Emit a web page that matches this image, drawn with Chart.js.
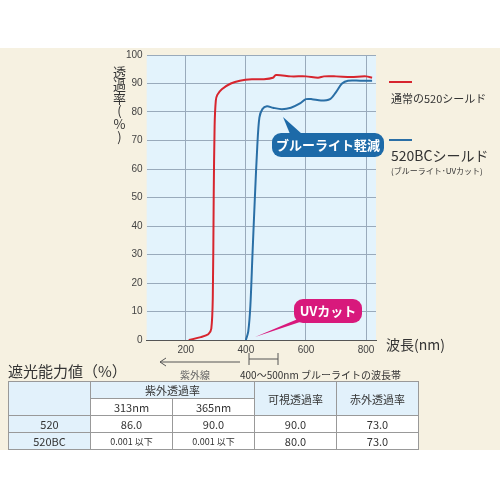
<!DOCTYPE html>
<html>
<head>
<meta charset="utf-8" />
<script src="https://cdn.jsdelivr.net/npm/chart.js"></script>
<style>
body{margin:0;width:500px;height:500px;background:#fff;font-family:"Noto Sans CJK JP","Noto Sans",sans-serif;color:#333;position:relative;overflow:hidden}
#bg{position:absolute;left:0;top:48px;width:500px;height:402px;background:#f6f1e1}
#wrap{position:absolute;left:0;top:0;width:500px;height:360px}
.a{position:absolute;white-space:nowrap}
.bub{position:absolute;color:#fff;font-weight:bold;font-size:13px;border-radius:9px;text-align:center;line-height:24px}
table{position:absolute;left:8px;top:381px;border-collapse:collapse;font-size:11px}
td{border:1px solid #999;text-align:center;padding:0;height:15px;background:#fff}
td.h{background:#e2f1fb}
</style>
</head>
<body>
<div id="bg"></div>
<div id="wrap"><canvas id="myChart" width="500" height="360"></canvas></div>
<svg class="a" style="left:0;top:0" width="500" height="500">
  <polygon points="283,117 290,134 302,134" fill="#1d6aa8"/>
  <polygon points="255,337 305,316 318,316" fill="#d8197c"/>
  <line x1="389" y1="82" x2="412" y2="82" stroke="#d7252e" stroke-width="2"/>
  <line x1="389" y1="140" x2="412" y2="140" stroke="#2a6fa6" stroke-width="2"/>
  <line x1="160" y1="362" x2="240" y2="362" stroke="#555"/>
  <polyline points="166,358 160,362 166,366" fill="none" stroke="#555"/>
  <line x1="249" y1="353" x2="249" y2="365" stroke="#555"/>
  <line x1="278" y1="353" x2="278" y2="365" stroke="#555"/>
  <line x1="249" y1="359" x2="278" y2="359" stroke="#555"/>
</svg>
<div class="a" style="left:112px;top:66px;writing-mode:vertical-rl;text-orientation:upright;font-size:13px;line-height:14px">透過率(%)</div>
<div class="bub" style="left:272px;top:133px;width:112px;background:#1d6aa8">ブルーライト軽減</div>
<div class="bub" style="left:294px;top:299px;width:68px;background:#d8197c">UVカット</div>
<div class="a" style="left:391px;top:90px;font-size:11px">通常の520シールド</div>
<div class="a" style="left:391px;top:146px;font-size:14px;line-height:18px">520BCシールド</div>
<div class="a" style="left:391px;top:166px;font-size:8px;line-height:10px">(ブルーライト･UVカット)</div>
<div class="a" style="left:386px;top:334px;font-size:14px">波長(nm)</div>
<div class="a" style="left:8px;top:360px;font-size:15px">遮光能力値（%）</div>
<div class="a" style="left:180px;top:367px;font-size:10px;color:#666">紫外線</div>
<div class="a" style="left:240px;top:367px;font-size:10px">400〜500nm ブルーライトの波長帯</div>
<table>
<tr><td class="h" rowspan="2" style="width:81px"></td><td class="h" colspan="2">紫外透過率</td><td class="h" rowspan="2" style="width:81px">可視透過率</td><td class="h" rowspan="2" style="width:81px">赤外透過率</td></tr>
<tr><td style="width:81px">313nm</td><td style="width:81px">365nm</td></tr>
<tr><td class="h">520</td><td>86.0</td><td>90.0</td><td>90.0</td><td>73.0</td></tr>
<tr><td class="h">520BC</td><td style="font-size:9px">0.001 以下</td><td style="font-size:9px">0.001 以下</td><td>80.0</td><td>73.0</td></tr>
</table>
<script>
// wavelength (nm) and transmittance (%)
const redX = [210,250,275,285,290,293,296,300,305,320,350,380,420,460,490,500,550,600,640,660,700,750,800,820];
const redY = [0,1,2,4,15,50,75,84,86,88,90,91,91.5,91.5,92,93,92.5,92.5,92,92.5,92.5,92.3,92.5,92];
const blueX = [400,408,415,422,430,438,445,455,470,490,520,550,580,600,620,650,680,700,720,740,780,820];
const blueY = [0,3,12,30,50,68,78,81,82,81.5,81,81.5,83,84.5,84.5,84,84.5,87,90,91,91,91];
const yTicks = [0,10,20,30,40,50,60,70,80,90,100];
const xTicks = [200,400,600,800];

function pts(xs, ys) { return xs.map((x, i) => ({x: x, y: ys[i]})); }

new Chart(document.getElementById('myChart'), {
  type: 'scatter',
  data: {
    datasets: [
      {data: pts(redX, redY), showLine: true, borderColor: '#d7252e', borderWidth: 2, pointRadius: 0, tension: 0.3},
      {data: pts(blueX, blueY), showLine: true, borderColor: '#2a6fa6', borderWidth: 2, pointRadius: 0, tension: 0.3}
    ]
  },
  options: {
    animation: false, responsive: false,
    layout: {padding: {left: 122, right: 124, top: 55, bottom: 0}},
    plugins: {legend: {display: false}, tooltip: {enabled: false}},
    scales: {
      x: {
        type: 'linear', min: 70, max: 833,
        afterBuildTicks: s => { s.ticks = xTicks.map(v => ({value: v})); },
        grid: {color: '#9ab', borderDash: [2, 2], drawTicks: false},
        border: {display: true, color: '#555'},
        ticks: {color: '#444', font: {size: 10}, padding: 4}
      },
      y: {
        min: 0, max: 100,
        afterBuildTicks: s => { s.ticks = yTicks.map(v => ({value: v})); },
        grid: {color: '#9ab', borderDash: [2, 2], drawTicks: false},
        border: {display: false},
        ticks: {color: '#444', font: {size: 10}, padding: 4}
      }
    }
  },
  plugins: [{
    id: 'bgArea',
    beforeDraw: c => {
      const a = c.chartArea, ctx = c.ctx;
      ctx.save(); ctx.fillStyle = '#e3f3fc';
      ctx.fillRect(a.left, a.top, a.right - a.left, a.bottom - a.top);
      ctx.restore();
    }
  }]
});
</script>
</body>
</html>
